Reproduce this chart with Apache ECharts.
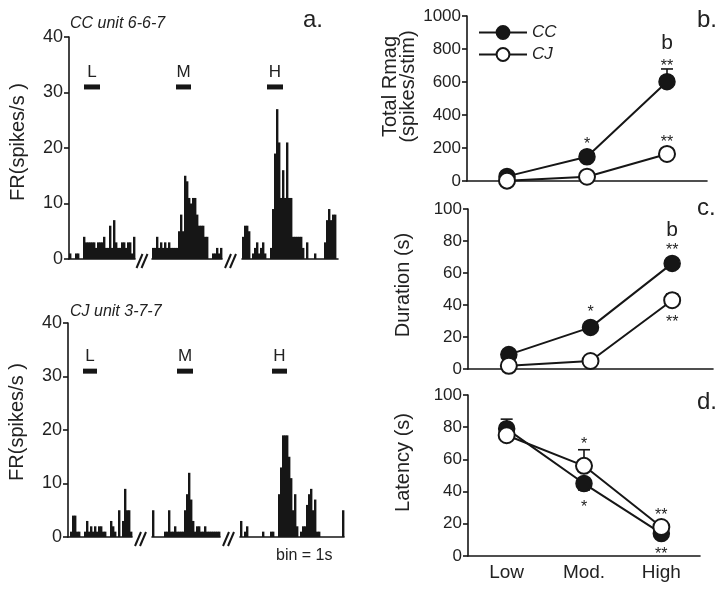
<!DOCTYPE html>
<html><head><meta charset="utf-8">
<script src="https://cdn.jsdelivr.net/npm/echarts@6/dist/echarts.min.js"></script>
<style>html,body{margin:0;padding:0;background:#fff}#c{width:724px;height:589px}</style>
</head><body><div id="c"></div>
<script>
// ---------- DATA ----------
// panel a: PSTH bins (1 s bins), spikes/s
const ccLow  = [1,0,0,1,1,0,0,4,3,3,3,3,3,2,3,3,3,4,2,2,6,2,7,3,2,2,3,3,2,3,3,1,4];
const ccMod  = [2,2,4,2,3,2,3,2,3,2,2,2,2,5,8,5,15,14,11,10,11,11,8,6,6,6,4,4,0,0,1,1,2,1,2];
const ccHigh = [4,6,6,5,0,1,2,3,1,2,3,1,0,0,2,9,19,27,21,11,16,11,21,11,11,4,4,4,4,4,2,0,3,0,0,0,1,0,0,0,0,3,7,9,7,8,8,0];
const cjLow  = [0,1,4,4,1,1,0,0,1,3,1,2,1,2,1,2,2,1,1,0,0,3,2,1,0,5,0,3,9,5,5,1];
const cjMod  = [5,0,0,0,0,0,1,1,5,1,1,2,1,1,1,1,5,8,12,7,3,1,2,2,1,1,2,1,1,1,1,1,1,1];
const cjHigh = [3,0,1,2,0,0,0,0,0,0,0,1,0,0,0,1,1,0,0,8,13,19,19,19,15,11,5,8,2,0,1,2,2,6,8,9,5,7,1,1,0,0,0,0,0,0,0,0,0,0,0,5];
const histTicks = [0,10,20,30,40];
const stimLabels = ['L','M','H'];
const stimLevel = 31;
const stimStartTop = [7.5,12,12.5];
const stimEndTop   = [15.5,19.5,20.5];
const stimStartBot = [7.5,12.5,16];
const stimEndBot   = [14.5,20.5,23.5];
const titleTop = 'CC unit 6-6-7';
const titleBot = 'CJ unit 3-7-7';

// panels b-d
const levels = ['Low','Mod.','High'];
const rmagCC = [28,147,602];
const rmagCJ = [2,26,164];
const durCC  = [9,26,66];
const durCJ  = [2,5,43];
const latCC  = [79,45,14];
const latCJ  = [75,56,18];
// error bars: [levelIndex, mean, end]
const errRmag = [[2,602,679]];
const errDur  = [[2,43,47]];
const errLat  = [[0,79,85],[1,45,41],[1,56,66]];
// annotations: [levelIndex, value, text]
const annRmag = [[1,221,'*'],[2,695,'**'],[2,836,'b'],[2,233,'**']];
const annDur  = [[1,35,'*'],[2,74,'**'],[2,87,'b'],[2,29,'**']];
const annLat  = [[1,69,'*'],[1,30,'*'],[2,25,'**'],[2,1,'**']];

// ---------- LAYOUT ----------
const BIN = 2;
const FONT = 'Liberation Sans, Arial, Helvetica, sans-serif';
const INK = '#161616';
const hist = [
  {top:37, height:222, lefts:[69,152,242], segs:[ccLow,ccMod,ccHigh], ss:stimStartTop, se:stimEndTop, nameShift:12},
  {top:323, height:214, lefts:[68,152,240], segs:[cjLow,cjMod,cjHigh], ss:stimStartBot, se:stimEndBot, nameShift:16}
];
const right = [
  {left:467, top:16, width:240, height:165, max:1000, interval:200, name:'Total Rmag\n(spikes/stim)', gap:50, shift:24,
   cc:rmagCC, cj:rmagCJ, err:errRmag, ann:annRmag, labels:false},
  {left:468, top:209, width:245, height:160, max:100, interval:20, name:'Duration (s)', gap:56, shift:8,
   cc:durCC, cj:durCJ, err:errDur, ann:annDur, labels:false},
  {left:468, top:395, width:232, height:161, max:100, interval:20, name:'Latency (s)', gap:56, shift:26,
   cc:latCC, cj:latCJ, err:errLat, ann:annLat, labels:true}
];

const grids = [], xAxes = [], yAxes = [], series = [], graphics = [];

hist.forEach((h, hi) => {
  h.segs.forEach((vals, si) => {
    const gi = grids.length;
    grids.push({left:h.lefts[si], top:h.top, width:vals.length*BIN, height:h.height, containLabel:false, outerBoundsMode:'none'});
    xAxes.push({type:'value', gridIndex:gi, min:0, max:vals.length, axisLine:{show:true, onZero:false, lineStyle:{color:INK, width:1.6}},
      axisTick:{show:false}, axisLabel:{show:false}, splitLine:{show:false}});
    yAxes.push({type:'value', gridIndex:gi, min:histTicks[0], max:histTicks[histTicks.length-1], interval:10, show: si===0,
      axisLine:{show:true, lineStyle:{color:INK, width:1.6}}, axisTick:{show:true, length:5, lineStyle:{color:INK, width:1.6}},
      axisLabel:{fontSize:18, color:'#222', fontFamily:FONT, margin:6}, splitLine:{show:false},
      name: si===0 ? 'FR(spikes/s )' : '', nameLocation:'middle', nameGap:41,
      nameTextStyle:{fontSize:20, color:'#222', fontFamily:FONT, padding:[0,0,0,h.nameShift]}});
    series.push({type:'custom', xAxisIndex:gi, yAxisIndex:gi, clip:false, silent:true,
      data: vals.map((v,i)=>[i,v]),
      renderItem:(p, api) => {
        const i = api.value(0), v = api.value(1);
        if (!(v > 0)) return null;
        const a = api.coord([i, v]), b = api.coord([i+1, 0]);
        return {type:'rect', shape:{x:a[0], y:a[1], width:b[0]-a[0]+0.4, height:b[1]-a[1]}, style:{fill:INK}};
      }});
    series.push({type:'custom', xAxisIndex:gi, yAxisIndex:gi, clip:false, silent:true,
      data: [[h.ss[si], h.se[si], stimLevel, si]],
      renderItem:(p, api) => {
        const s = api.value(0), e = api.value(1), lv = api.value(2), li = api.value(3);
        const a = api.coord([s, lv]), b = api.coord([e, lv]);
        const t = api.coord([(s+e)/2, lv+2.7]);
        return {type:'group', children:[
          {type:'rect', shape:{x:a[0], y:a[1]-2.5, width:b[0]-a[0], height:5}, style:{fill:INK}},
          {type:'text', x:t[0], y:t[1], style:{text:stimLabels[li], font:'17px '+FONT, fill:'#222', align:'center', verticalAlign:'middle'}}
        ]};
      }});
  });
  // break marks between segments
  const base = h.top + h.height;
  for (let k = 0; k < 2; k++) {
    const endPrev = h.lefts[k] + h.segs[k].length*BIN;
    const cx = (endPrev + h.lefts[k+1]) / 2;
    [-5, 0].forEach(dx => {
      graphics.push({type:'line', shape:{x1:cx+dx-2, y1:base+9, x2:cx+dx+4, y2:base-5}, style:{stroke:INK, lineWidth:2}});
    });
  }
});

right.forEach((r, ri) => {
  const gi = grids.length;
  grids.push({left:r.left, top:r.top, width:r.width, height:r.height, containLabel:false, outerBoundsMode:'none'});
  xAxes.push({type:'category', gridIndex:gi, data:levels, boundaryGap:true,
    axisLine:{show:true, onZero:false, lineStyle:{color:INK, width:1.6}}, axisTick:{show:false},
    axisLabel:{show:r.labels, fontSize:19, color:'#222', fontFamily:FONT, margin:7}, splitLine:{show:false}});
  yAxes.push({type:'value', gridIndex:gi, min:0, max:r.max, interval:r.interval,
    axisLine:{show:true, lineStyle:{color:INK, width:1.6}}, axisTick:{show:true, length:5, lineStyle:{color:INK, width:1.6}},
    axisLabel:{fontSize:17, color:'#222', fontFamily:FONT, margin:6, formatter:v => String(v)}, splitLine:{show:false},
    name:r.name, nameLocation:'middle', nameGap:r.gap,
    nameTextStyle:{fontSize:20, color:'#222', fontFamily:FONT, lineHeight:18, padding:[0,0,0,r.shift]}});
  series.push({type:'custom', xAxisIndex:gi, yAxisIndex:gi, clip:false, silent:true, z:1, data:r.err,
    renderItem:(p, api) => {
      const c = api.value(0);
      const a = api.coord([c, api.value(1)]), b = api.coord([c, api.value(2)]);
      return {type:'group', children:[
        {type:'line', shape:{x1:a[0], y1:a[1], x2:b[0], y2:b[1]}, style:{stroke:INK, lineWidth:1.6}},
        {type:'line', shape:{x1:b[0]-6, y1:b[1], x2:b[0]+6, y2:b[1]}, style:{stroke:INK, lineWidth:1.6}}
      ]};
    }});
  series.push({type:'line', name:'CC', xAxisIndex:gi, yAxisIndex:gi, data:r.cc, z:3,
    symbol:'circle', symbolSize:16, lineStyle:{color:INK, width:2}, itemStyle:{color:INK, borderColor:INK, borderWidth:1.5}});
  series.push({type:'line', name:'CJ', xAxisIndex:gi, yAxisIndex:gi, data:r.cj, z:4,
    symbol:'circle', symbolSize:16, lineStyle:{color:INK, width:2}, itemStyle:{color:'#fff', borderColor:INK, borderWidth:2}});
  series.push({type:'custom', xAxisIndex:gi, yAxisIndex:gi, clip:false, silent:true, z:5, data:r.ann.map(d=>[d[0], d[1], ri]),
    renderItem:(p, api) => {
      const idx = p.dataIndex;
      const a = api.coord([api.value(0), api.value(1)]);
      const txt = right[api.value(2)].ann[idx][2];
      const isLetter = txt === 'b';
      return {type:'text', x:a[0], y:a[1], style:{text:txt, font:(isLetter?'21px ':'16px ')+FONT, fill:'#222', align:'center', verticalAlign:'middle'}};
    }});
});

const txt = (text, x, y, size, italic, align) => ({type:'text', x, y, style:{text, font:(italic?'italic ':'')+size+'px '+FONT, fill:'#222', verticalAlign:'middle', align:align||'left'}});
graphics.push(txt(titleTop, 70, 24, 16, true));
graphics.push(txt(titleBot, 70, 312, 16, true));
graphics.push(txt('a.', 303, 20, 24, false));
graphics.push(txt('b.', 697, 20, 24, false));
graphics.push(txt('c.', 697, 208, 24, false));
graphics.push(txt('d.', 697, 402, 24, false));
graphics.push(txt('bin = 1s', 276, 556, 16, false));

const chart = echarts.init(document.getElementById('c'), null, {renderer:'canvas'});
chart.setOption({
  animation:false,
  backgroundColor:'#fff',
  grid:grids, xAxis:xAxes, yAxis:yAxes, series,
  legend:{data:['CC','CJ'], orient:'vertical', left:473, top:19, itemWidth:48, itemHeight:16, itemGap:5,
    textStyle:{fontSize:17, fontStyle:'italic', color:'#222', fontFamily:FONT}},
  graphic:graphics
});
</script></body></html>
